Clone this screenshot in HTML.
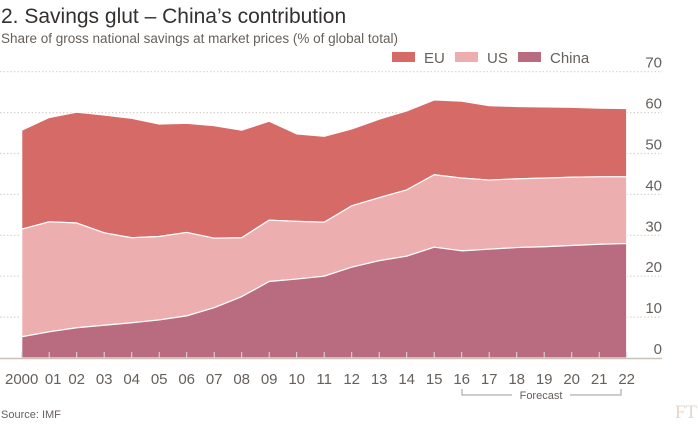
<!DOCTYPE html>
<html><head><meta charset="utf-8"><style>
body{margin:0;background:#fff;width:698px;height:426px;overflow:hidden;font-family:"Liberation Sans",sans-serif;}
</style></head><body>
<svg width="698" height="426" xmlns="http://www.w3.org/2000/svg">
<text x="1" y="23" font-size="21" fill="#33302e">2. Savings glut – China’s contribution</text>
<text x="1" y="43" font-size="13.5" fill="#66605c">Share of gross national savings at market prices (% of global total)</text>
<g id="grid"></g>
<g id="areas"></g>
<g id="axes"></g>
<g>
<rect x="392" y="52" width="23" height="10" fill="#d66a67"/>
<text x="424" y="63" font-size="15" fill="#66605c">EU</text>
<rect x="455" y="52" width="23" height="10" fill="#ecaeae"/>
<text x="487" y="63" font-size="15" fill="#66605c">US</text>
<rect x="518" y="52" width="23" height="10" fill="#b96b80"/>
<text x="550" y="63" font-size="15" fill="#66605c">China</text>
</g>
<path d="M462 389 V395 H512 M570 395 H621 V389" fill="none" stroke="#a09a96" stroke-width="1"/>
<text x="541" y="399" font-size="11" fill="#66605c" text-anchor="middle">Forecast</text>
<text x="1" y="418" font-size="11" fill="#66605c">Source: IMF</text>
<text x="697" y="418" font-size="19" fill="#e3d6ca" text-anchor="end" font-family="Liberation Serif,serif">FT</text>
</svg>
<script>
const years=["2000","01","02","03","04","05","06","07","08","09","10","11","12","13","14","15","16","17","18","19","20","21","22"];
const china=[5.2,6.4,7.4,8.0,8.6,9.3,10.3,12.3,15.0,18.7,19.3,20.0,22.2,23.8,24.9,27.1,26.2,26.6,27.0,27.2,27.5,27.8,28.0];
const us=[26.3,26.9,25.6,22.6,20.8,20.4,20.4,17.0,14.4,15.0,14.1,13.2,15.0,15.4,16.2,17.7,17.8,16.9,16.8,16.8,16.7,16.5,16.3];
const eu=[24.2,25.5,27.1,28.8,29.2,27.5,26.7,27.5,26.3,24.2,21.4,21.0,18.8,19.2,19.3,18.3,18.8,18.2,17.7,17.4,17.1,16.8,16.7];
const yTicks=[0,10,20,30,40,50,60,70];
const NS="http://www.w3.org/2000/svg";
const x=i=>21.7+i*27.5;
const y=v=>358-v*4.09;
const grid=document.getElementById('grid'),areas=document.getElementById('areas'),axes=document.getElementById('axes');
function mk(tag,attrs,parent){const e=document.createElementNS(NS,tag);for(const k in attrs)e.setAttribute(k,attrs[k]);parent.appendChild(e);return e;}
yTicks.forEach(t=>{
 if(t>0){const l=mk('line',{x1:0,x2:662,y1:y(t),y2:y(t),stroke:'#d8d3cc','stroke-width':1.2,'stroke-dasharray':'1.5,2'},grid);
 
 }
 const tx=mk('text',{x:662,y:y(t)-4,'font-size':15,fill:'#66605c','text-anchor':'end'},axes);
 tx.textContent=t;
 
 
});
const c1=china,c2=china.map((v,i)=>v+us[i]),c3=c2.map((v,i)=>v+eu[i]);
function area(top,bot,fill,name){
 let d='M'+top.map((v,i)=>x(i)+','+y(v)).join(' L');
 for(let i=bot.length-1;i>=0;i--)d+=' L'+x(i)+','+y(bot[i]);
 d+='Z';
 const p=mk('path',{d:d,fill:fill,stroke:'#fff','stroke-width':1.2,'stroke-linejoin':'round'},areas);
 
 
}
const zero=china.map(()=>0);
area(c3,c2,'#d66a67','area-eu');
area(c2,c1,'#ecaeae','area-us');
area(c1,zero,'#b96b80','area-china');
const base=mk('line',{x1:0,x2:662,y1:358.5,y2:358.5,stroke:'#ccc1b7','stroke-width':1.5},axes);


years.forEach((yr,i)=>{
 const t=mk('line',{x1:x(i),x2:x(i),y1:352,y2:358,stroke:'#ddd','stroke-width':1},axes);
 
 
 const tx=mk('text',{x:x(i)+(i===1?4:0),y:384,'font-size':15,fill:'#66605c','text-anchor':'middle'},axes);
 tx.textContent=yr;
 
 
});
</script>
</body></html>
